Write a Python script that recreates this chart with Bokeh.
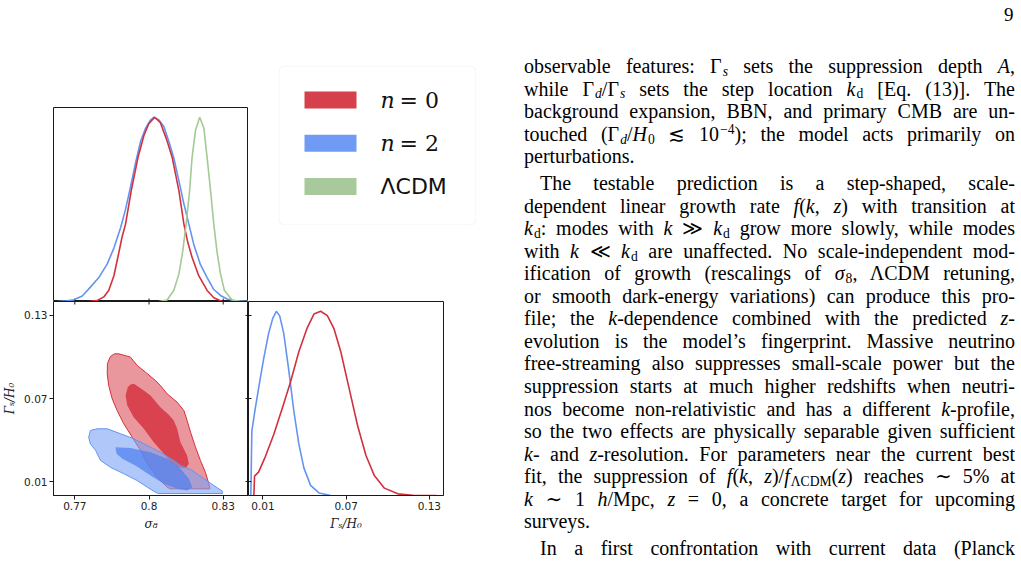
import math
from bokeh.plotting import figure
from bokeh.layouts import row, column
from bokeh.models import Range1d, FixedTicker, LinearAxis, Spacer, Div, BoxAnnotation
from bokeh.core.properties import value
from bokeh.embed import file_html
from bokeh.resources import INLINE

# ---------------- data ----------------
# 1D marginal of sigma_8 (normalised to peak = 1)
red_s8_x = [0.7757, 0.7790, 0.7817, 0.7837, 0.7858, 0.7874, 0.7891, 0.7905, 0.7928, 0.7955,
            0.7979, 0.7999, 0.8023, 0.8046, 0.8071, 0.8094, 0.8121, 0.8141, 0.8157, 0.8174,
            0.8201, 0.8235, 0.8262, 0.8296]
red_s8_p = [0.0, 0.005, 0.025, 0.06, 0.14, 0.24, 0.35, 0.42, 0.60, 0.78,
            0.90, 0.965, 1.0, 0.97, 0.88, 0.78, 0.60, 0.42, 0.32, 0.24,
            0.14, 0.06, 0.02, 0.0]
blue_s8_x = [0.7629, 0.7669, 0.7696, 0.7730, 0.7763, 0.7797, 0.7831, 0.7858, 0.7885, 0.7905,
             0.7925, 0.7945, 0.7966, 0.7986, 0.8006, 0.8019, 0.8040, 0.8060, 0.8080, 0.8100,
             0.8120, 0.8141, 0.8161, 0.8181, 0.8208, 0.8235, 0.8262, 0.8289, 0.8316, 0.8343, 0.8397]
blue_s8_p = [0.0, 0.004, 0.009, 0.03, 0.078, 0.13, 0.204, 0.29, 0.40, 0.50,
             0.62, 0.75, 0.87, 0.94, 0.985, 1.0, 0.985, 0.95, 0.87, 0.78,
             0.66, 0.53, 0.42, 0.31, 0.20, 0.13, 0.065, 0.033, 0.014, 0.005, 0.0]
lcdm_s8_x = [0.8040, 0.8073, 0.8100, 0.8121, 0.8137, 0.8150, 0.8164, 0.8174, 0.8188, 0.8205,
             0.8222, 0.8235, 0.8249, 0.8262, 0.8275, 0.8289, 0.8305, 0.8336, 0.8370, 0.8400]
lcdm_s8_p = [0.0, 0.008, 0.06, 0.15, 0.28, 0.42, 0.60, 0.78, 0.93, 1.0,
             0.94, 0.78, 0.60, 0.42, 0.27, 0.15, 0.06, 0.008, 0.0, 0.0]

# 1D marginal of Gamma_s/H0
red_g_x = [0.00347, 0.00395, 0.00685, 0.01169, 0.01774, 0.02379, 0.02984, 0.03589, 0.04194, 0.04678,
           0.05162, 0.05646, 0.06130, 0.06614, 0.07219, 0.07824, 0.08429, 0.09034, 0.09760, 0.10728,
           0.11938, 0.13511]
red_g_p = [0.0, 0.105, 0.127, 0.21, 0.33, 0.47, 0.615, 0.78, 0.91, 0.985,
           1.0, 0.976, 0.904, 0.78, 0.58, 0.38, 0.217, 0.108, 0.04, 0.009,
           0.0, 0.0]
blue_g_x = [0.00129, 0.00201, 0.00443, 0.00685, 0.01048, 0.01411, 0.01702, 0.01968, 0.02210, 0.02500,
            0.02863, 0.03226, 0.03589, 0.03952, 0.04436, 0.05041, 0.05888]
blue_g_p = [0.0, 0.35, 0.47, 0.58, 0.74, 0.88, 0.96, 1.0, 0.975, 0.88,
            0.68, 0.46, 0.28, 0.15, 0.055, 0.014, 0.0]

# 2D contours (sigma_8, Gamma_s/H0)
red_outer_s8 = [0.7878, 0.7925, 0.7952, 0.7986, 0.8026, 0.8046, 0.8073, 0.8114, 0.8141, 0.8154,
                0.8168, 0.8188, 0.8208, 0.8228, 0.8242, 0.8246, 0.8087, 0.8073, 0.8033, 0.7993,
                0.7966, 0.7932, 0.7898, 0.7871, 0.7851, 0.7837, 0.7831, 0.7832, 0.7844, 0.7860]
red_outer_g = [0.1023, 0.0999, 0.0939, 0.0890, 0.0830, 0.0794, 0.0734, 0.0673, 0.0613, 0.0541,
               0.0456, 0.0348, 0.0252, 0.0167, 0.0083, 0.0047, 0.0047, 0.0059, 0.0131, 0.0228,
               0.0324, 0.0420, 0.0517, 0.0613, 0.0698, 0.0794, 0.0879, 0.0953, 0.1004, 0.1023]
red_inner_s8 = [0.7939, 0.7979, 0.8006, 0.8046, 0.8079, 0.8100, 0.8114, 0.8127, 0.8154, 0.8161,
                0.8148, 0.8114, 0.8087, 0.8060, 0.8019, 0.7979, 0.7938, 0.7912, 0.7905, 0.7914, 0.7925]
red_inner_g = [0.0806, 0.0758, 0.0722, 0.0637, 0.0584, 0.0541, 0.0481, 0.0384, 0.0288, 0.0228,
               0.0196, 0.0203, 0.0239, 0.0300, 0.0384, 0.0481, 0.0565, 0.0649, 0.0722, 0.0782, 0.0802]
blue_outer_s8 = [0.7756, 0.7763, 0.7790, 0.7831, 0.7885, 0.7938, 0.7993, 0.8046, 0.8100, 0.8127,
                 0.8168, 0.8221, 0.8262, 0.8296, 0.8297, 0.8040, 0.8026, 0.7993, 0.7952, 0.7898,
                 0.7844, 0.7804, 0.7784, 0.7763]
blue_outer_g = [0.0420, 0.0469, 0.0481, 0.0481, 0.0445, 0.0409, 0.0360, 0.0312, 0.0252, 0.0216,
                0.0187, 0.0122, 0.0071, 0.0031, 0.0013, 0.0013, 0.0022, 0.0059, 0.0107, 0.0156,
                0.0203, 0.0252, 0.0324, 0.0372]
blue_inner_s8 = [0.7864, 0.7925, 0.8006, 0.8073, 0.8127, 0.8161, 0.8175, 0.8154, 0.8114, 0.8060,
                 0.8006, 0.7945, 0.7892, 0.7869]
blue_inner_g = [0.0348, 0.0342, 0.0312, 0.0264, 0.0192, 0.0119, 0.0059, 0.0035, 0.0047, 0.0083,
                0.0143, 0.0216, 0.0264, 0.0300]

s8_ticks = [0.77, 0.8, 0.83]
s8_tick_labels = ["0.77", "0.8", "0.83"]
g_ticks = [0.01, 0.07, 0.13]
g_tick_labels = ["0.01", "0.07", "0.13"]
legend_labels = ["n = 0", "n = 2", "ΛCDM"]

# ---------------- styles ----------------
RED_LINE = "#d3303e"
BLUE_LINE = "#6494f2"
GREEN_LINE = "#a3ca96"
RED_OUT = "#e9979c"
RED_IN = "#d8434f"
BLUE_OUT = "#7ba1f5"
BLUE_IN = "#4f7fef"
SWATCH = ["#d6404d", "#6f9bf4", "#a8c99b"]
FRAME = "#1a1a1a"
TICKFONT = "DejaVu Sans"

S8_RANGE = (0.76137, 0.84023)
G_RANGE = (-0.00012, 0.14012)
GX_RANGE = (-0.0004, 0.1402)
P_RANGE = (0.0, 1.053)


def base_fig(**kw):
    p = figure(output_backend="svg", toolbar_location=None,
               x_axis_location=None, y_axis_location=None, **kw)
    p.grid.visible = False
    p.background_fill_color = "white"
    p.border_fill_color = "white"
    p.outline_line_color = FRAME
    p.outline_line_width = 1
    return p


def inner_ticks(p, xs, ys, vertical, **kw):
    # tick marks at the frame edge: half of each dash lies inside the frame
    p.scatter(xs, ys, marker="dash", size=6, angle=(math.pi / 2 if vertical else 0.0),
              line_color=FRAME, line_width=1, **kw)


def label_axis(ticks, labels, title):
    ax = LinearAxis(ticker=FixedTicker(ticks=ticks),
                    major_label_overrides=dict(zip(ticks, labels)))
    ax.axis_label = title
    ax.axis_label_text_font = "DejaVu Serif"
    ax.axis_label_text_font_style = "italic"
    ax.axis_label_text_font_size = "12px"
    ax.axis_label_text_color = "#222222"
    ax.axis_label_standoff = 4
    ax.major_label_text_font = TICKFONT
    ax.major_label_text_font_size = "10.5px"
    ax.major_label_text_color = "#222222"
    ax.major_label_standoff = 2
    ax.major_tick_out = 4
    ax.major_tick_in = 0
    ax.minor_tick_line_color = None
    ax.axis_line_color = FRAME
    ax.major_tick_line_color = FRAME
    return ax


# ---------------- top-left: sigma_8 marginal ----------------
fig_top = base_fig(width=248, height=301,
                   x_range=Range1d(*S8_RANGE), y_range=Range1d(*P_RANGE),
                   min_border_left=53, min_border_right=0, min_border_top=107, min_border_bottom=0)
inner_ticks(fig_top, s8_ticks, [P_RANGE[0]] * len(s8_ticks), vertical=True)
fig_top.line(blue_s8_x, blue_s8_p, line_color=BLUE_LINE, line_width=1.6)
fig_top.line(red_s8_x, red_s8_p, line_color=RED_LINE, line_width=1.6)
fig_top.line(lcdm_s8_x, lcdm_s8_p, line_color=GREEN_LINE, line_width=1.6)

# ---------------- legend ----------------
ROW_PX = 43.3
LEG_W, LEG_H = 198, 160
first_row_px = 34.5
leg_y_top = -first_row_px / ROW_PX
leg_y_bottom = (LEG_H - first_row_px) / ROW_PX
fig_leg = base_fig(width=LEG_W, height=LEG_H,
                   x_range=Range1d(0, LEG_W), y_range=Range1d(leg_y_bottom, leg_y_top),
                   min_border_left=0, min_border_right=0, min_border_top=0, min_border_bottom=0)
fig_leg.outline_line_color = None
box_kw = dict(left=0.5, right=LEG_W - 0.5,
              top=leg_y_top + 0.5 / ROW_PX, bottom=leg_y_bottom - 0.5 / ROW_PX,
              fill_color=None, line_color="#d6d6d6", line_width=1, level="underlay")
try:
    box = BoxAnnotation(border_radius=6, **box_kw)
except Exception:
    box = BoxAnnotation(**box_kw)
fig_leg.add_layout(box)
rows = list(range(len(legend_labels)))
fig_leg.rect(x=[52] * len(rows), y=rows, width=52, height=17, width_units="screen",
             height_units="screen", fill_color=SWATCH, line_color=None)
math_rows = [i for i, l in enumerate(legend_labels) if l.startswith("n")]
fig_leg.text(x=[102] * len(math_rows), y=math_rows,
             text=[legend_labels[i].split(" ", 1)[0] for i in math_rows],
             text_font=value("DejaVu Serif"), text_font_style="italic",
             text_font_size="22px", text_baseline="middle", text_color="#111111")
fig_leg.text(x=[121] * len(math_rows), y=math_rows,
             text=[legend_labels[i].split(" ", 1)[1] for i in math_rows],
             text_font=value("DejaVu Serif"),
             text_font_size="22px", text_baseline="middle", text_color="#111111")
other_rows = [i for i, l in enumerate(legend_labels) if not l.startswith("n")]
fig_leg.text(x=[102] * len(other_rows), y=other_rows,
             text=[legend_labels[i] for i in other_rows],
             text_font=value("DejaVu Sans"), text_font_size="22px",
             text_baseline="middle", text_color="#111111")

legend_area = column(Spacer(width=267, height=65),
                     row(Spacer(width=30, height=LEG_H), fig_leg),
                     Spacer(width=267, height=301 - 65 - LEG_H))

# ---------------- bottom-left: 2D contours ----------------
fig_2d = base_fig(width=248, height=266,
                  x_range=Range1d(*S8_RANGE), y_range=Range1d(*G_RANGE),
                  min_border_left=53, min_border_right=0, min_border_top=0, min_border_bottom=72)
fig_2d.add_layout(label_axis(s8_ticks, s8_tick_labels, "σ₈"), "below")
fig_2d.add_layout(label_axis(g_ticks, g_tick_labels, "Γₛ/H₀"), "left")
fig_2d.patch(red_outer_s8, red_outer_g, fill_color=RED_OUT, line_color=None)
fig_2d.patch(red_inner_s8, red_inner_g, fill_color=RED_IN, line_color=None)
fig_2d.patch(red_outer_s8, red_outer_g, fill_color=None, line_color=RED_LINE, line_width=1)
fig_2d.patch(blue_outer_s8, blue_outer_g, fill_color=BLUE_OUT, fill_alpha=0.6, line_color=None)
fig_2d.patch(blue_inner_s8, blue_inner_g, fill_color=BLUE_IN, fill_alpha=0.7, line_color=None)
fig_2d.patch(blue_outer_s8, blue_outer_g, fill_color=None, line_color=BLUE_LINE, line_width=1)
inner_ticks(fig_2d, [S8_RANGE[1]] * len(g_ticks), g_ticks, vertical=False)
inner_ticks(fig_2d, s8_ticks, [G_RANGE[1]] * len(s8_ticks), vertical=True)

# ---------------- bottom-right: Gamma marginal ----------------
fig_right = base_fig(width=267, height=266,
                     x_range=Range1d(*GX_RANGE), y_range=Range1d(*P_RANGE),
                     min_border_left=0, min_border_right=72, min_border_top=0, min_border_bottom=72)
fig_right.extra_y_ranges = {"g": Range1d(*G_RANGE)}
fig_right.add_layout(label_axis(g_ticks, g_tick_labels, "Γₛ/H₀"), "below")
fig_right.line(blue_g_x, blue_g_p, line_color=BLUE_LINE, line_width=1.6)
fig_right.line(red_g_x, red_g_p, line_color=RED_LINE, line_width=1.6)
inner_ticks(fig_right, [GX_RANGE[0]] * len(g_ticks), g_ticks, vertical=False, y_range_name="g")

# ---------------- text column ----------------
def it(s):
    return f"<i>{s}</i>"


def sb(s):
    return (f'<span style="font-size:68%;vertical-align:-0.22em;line-height:0;'
            f'margin-left:1px">{s}</span>')


def sp(s):
    return (f'<span style="font-size:68%;vertical-align:0.5em;line-height:0;'
            f'margin-left:1px">{s}</span>')


paragraphs = [
    [f"observable features: Γ{sb(it('s'))} sets the suppression depth {it('A')},",
     f"while Γ{sb(it('d'))}/Γ{sb(it('s'))} sets the step location {it('k')}{sb('d')} [Eq. (13)]. The",
     "background expansion, BBN, and primary CMB are un-",
     f"touched (Γ{sb(it('d'))}/{it('H')}{sb('0')} ≲ 10{sp('−4')}); the model acts primarily on",
     "perturbations."],
    ["The testable prediction is a step-shaped, scale-",
     f"dependent linear growth rate {it('f')}({it('k')}, {it('z')}) with transition at",
     f"{it('k')}{sb('d')}: modes with {it('k')} ≫ {it('k')}{sb('d')} grow more slowly, while modes",
     f"with {it('k')} ≪ {it('k')}{sb('d')} are unaffected. No scale-independent mod-",
     f"ification of growth (rescalings of {it('σ')}{sb('8')}, ΛCDM retuning,",
     "or smooth dark-energy variations) can produce this pro-",
     f"file; the {it('k')}-dependence combined with the predicted {it('z')}-",
     "evolution is the model’s fingerprint. Massive neutrino",
     "free-streaming also suppresses small-scale power but the",
     "suppression starts at much higher redshifts when neutri-",
     f"nos become non-relativistic and has a different {it('k')}-profile,",
     "so the two effects are physically separable given sufficient",
     f"{it('k')}- and {it('z')}-resolution. For parameters near the current best",
     f"fit, the suppression of {it('f')}({it('k')}, {it('z')})/{it('f')}{sb('ΛCDM')}({it('z')}) reaches ∼ 5% at",
     f"{it('k')} ∼ 1 {it('h')}/Mpc, {it('z')} = 0, a concrete target for upcoming",
     "surveys."],
    ["In a first confrontation with current data (Planck"],
]
paragraph_continues = [True, False, True]   # last paragraph runs on past the page

PITCH = 22.55
PARA_GAP = 4.2
FIRST_BASE = 68.0
TEXT_LEFT = 4
TEXT_W = 491
INDENT = 16
FONT_PX = 20
ASC = 18.0

parts = ['<div style="position:relative;width:506px;height:567px;overflow:hidden;'
         'font-family:\'Liberation Serif\',\'DejaVu Serif\',serif;color:#000;">']
parts.append('<div style="position:absolute;left:475px;top:-0.5px;width:18.5px;text-align:right;'
             'font-size:19px;line-height:19px;">9</div>')
base = FIRST_BASE
for pi, para in enumerate(paragraphs):
    for li, line in enumerate(para):
        last = (li == len(para) - 1) and not paragraph_continues[pi]
        indent = INDENT if (li == 0 and pi > 0) else 0
        align = "left" if last else "justify"
        top = base - ASC
        parts.append(
            f'<div style="position:absolute;left:{TEXT_LEFT + indent}px;width:{TEXT_W - indent}px;'
            f'top:{top:.1f}px;font-size:{FONT_PX}px;line-height:{PITCH}px;'
            f'text-align:justify;text-align-last:{align};white-space:normal;">{line}</div>')
        base += PITCH
    base += PARA_GAP
parts.append("</div>")
text_div = Div(text="".join(parts), width=506, height=567)

layout = row(column(row(fig_top, legend_area), row(fig_2d, fig_right)), text_div)

open("out.html", "w").write(file_html(layout, INLINE))
